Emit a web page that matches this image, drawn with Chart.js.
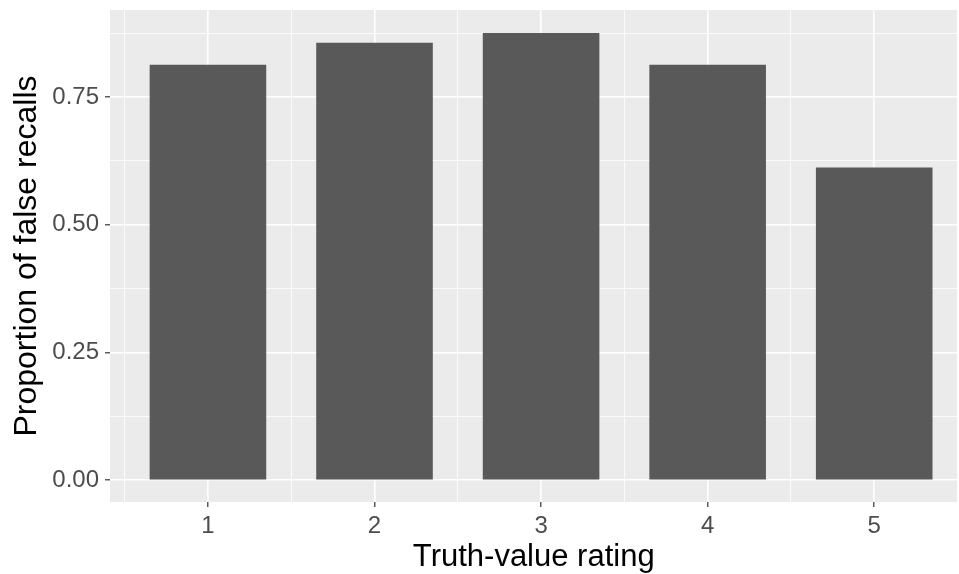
<!DOCTYPE html>
<html>
<head>
<meta charset="utf-8">
<script src="https://cdn.jsdelivr.net/npm/chart.js@4/dist/chart.umd.min.js"></script>
<style>
  html, body { margin: 0; padding: 0; background: #fff; }
  #wrap { width: 959px; height: 574px; }
</style>
</head>
<body>
<div id="wrap"><canvas id="chart"></canvas></div>
<script>
// values
const ratings = [1, 2, 3, 4, 5];
const falseRecalls = [0.813, 0.856, 0.875, 0.813, 0.612];
const xBreaks = [0.5, 1, 1.5, 2, 2.5, 3, 3.5, 4, 4.5, 5, 5.5];
const yBreaks = [0, 0.125, 0.25, 0.375, 0.5, 0.625, 0.75, 0.875];
const yLabeled = [0, 0.25, 0.5, 0.75];

const isMajorX = v => Number.isInteger(v);
const isMajorY = v => yLabeled.includes(v);
const tickVal = c => (c.tick ? c.tick.value : NaN);
const FONT = "Liberation Sans, Arial, sans-serif";

// grey ggplot panel behind the grid
const panelBg = {
  id: "panelBg",
  beforeDraw(chart) {
    const { ctx, chartArea: a } = chart;
    ctx.save();
    ctx.fillStyle = "#ebebeb";
    ctx.fillRect(a.left, a.top, a.right - a.left, a.bottom - a.top);
    ctx.restore();
  },
};

const ctx = document.getElementById("chart").getContext("2d");
new Chart(ctx, {
  type: "bar",
  data: {
    datasets: [
      {
        data: ratings.map((r, i) => ({ x: r, y: falseRecalls[i] })),
        backgroundColor: "#595959",
        borderWidth: 0,
        barPercentage: 1.4, // ticks are every 0.5, bars are 0.7 wide
        categoryPercentage: 1.0,
      },
    ],
  },
  options: {
    responsive: true,
    maintainAspectRatio: false,
    animation: false,
    layout: { padding: { top: 10, right: 1.5, left: 0, bottom: 0 } },
    plugins: {
      legend: { display: false },
      tooltip: { enabled: false },
    },
    scales: {
      x: {
        type: "linear",
        min: 0.412,
        max: 5.5,
        offset: false,
        border: { display: false },
        afterBuildTicks: axis => {
          axis.ticks = xBreaks.map(v => ({ value: v }));
        },
        afterFit: axis => {
          axis.height = 72;
          axis.paddingLeft = 0;
          axis.paddingRight = 0;
        },
        grid: {
          offset: false,
          color: "#ffffff",
          lineWidth: c => (isMajorX(tickVal(c)) ? 1.6 : 0.8),
          tickColor: c => (isMajorX(tickVal(c)) ? "#333333" : "rgba(0,0,0,0)"),
          tickLength: 5,
          tickWidth: 1.2,
        },
        ticks: {
          autoSkip: false,
          maxRotation: 0,
          padding: 5,
          color: "#4d4d4d",
          font: { family: FONT, size: 24 },
          callback: v => (isMajorX(v) ? String(v) : ""),
        },
        title: {
          display: true,
          text: "Truth-value rating",
          color: "#000000",
          font: { family: FONT, size: 31 },
          padding: { top: 0, bottom: -2 },
        },
      },
      y: {
        min: -0.0425,
        max: 0.92,
        border: { display: false },
        afterBuildTicks: axis => {
          axis.ticks = yBreaks.map(v => ({ value: v }));
        },
        afterFit: axis => {
          axis.width = 110;
          axis.paddingTop = 0;
          axis.paddingBottom = 0;
        },
        grid: {
          color: "#ffffff",
          lineWidth: c => (isMajorY(tickVal(c)) ? 1.6 : 0.8),
          tickColor: c => (isMajorY(tickVal(c)) ? "#333333" : "rgba(0,0,0,0)"),
          tickLength: 5,
          tickWidth: 1.2,
        },
        ticks: {
          autoSkip: false,
          padding: 6,
          color: "#4d4d4d",
          font: { family: FONT, size: 24 },
          callback: v => (isMajorY(v) ? v.toFixed(2) : ""),
        },
        title: {
          display: true,
          text: "Proportion of false recalls",
          color: "#000000",
          font: { family: FONT, size: 32 },
          padding: { top: 8, bottom: 0 },
        },
      },
    },
  },
  plugins: [panelBg],
});
</script>
</body>
</html>
